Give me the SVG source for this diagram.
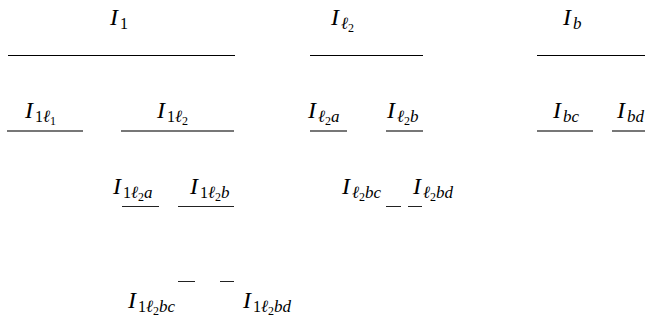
<svg xmlns="http://www.w3.org/2000/svg" width="645" height="320" viewBox="0 0 645 320">
<style>
text{font-family:"Liberation Serif","DejaVu Serif",serif;fill:#000}
.m{font-style:italic;font-size:24px}
.s{font-size:16px;font-style:normal}
.si{font-size:17px;font-style:italic}
.ss{font-size:12px;font-style:normal}
.l1{stroke:#000;stroke-width:1}
.l2{stroke:#777;stroke-width:2}
.l3{stroke:#222;stroke-width:1}
</style>
<rect width="645" height="320" fill="#fff"/>
<g id="connectors" fill="none">
<line class="l1" x1="8" y1="55.5" x2="235" y2="55.5"/>
<line class="l1" x1="310" y1="55.5" x2="423" y2="55.5"/>
<line class="l1" x1="537" y1="55.5" x2="645" y2="55.5"/>
<line class="l2" x1="7" y1="131" x2="83" y2="131"/>
<line class="l2" x1="121" y1="131" x2="234" y2="131"/>
<line class="l2" x1="310" y1="131" x2="347" y2="131"/>
<line class="l2" x1="386" y1="131" x2="423" y2="131"/>
<line class="l2" x1="537" y1="131" x2="593" y2="131"/>
<line class="l2" x1="612" y1="131" x2="645" y2="131"/>
<line class="l3" x1="122" y1="206.5" x2="159" y2="206.5"/>
<line class="l3" x1="178" y1="206.5" x2="234" y2="206.5"/>
<line class="l3" x1="386" y1="206.5" x2="401" y2="206.5"/>
<line class="l3" x1="408" y1="206.5" x2="422" y2="206.5"/>
<line class="l3" x1="178" y1="281.5" x2="195" y2="281.5"/>
<line class="l3" x1="220" y1="281.5" x2="234" y2="281.5"/>
</g>
<g id="n-I1"><text class="m" x="110" y="25">I<tspan class="s" dx="2" dy="4">1</tspan></text></g>
<g id="n-Il2"><text class="m" x="331" y="25">I<tspan class="si" dx="2" dy="4">ℓ</tspan><tspan class="ss" dy="3">2</tspan></text></g>
<g id="n-Ib"><text class="m" x="563" y="25">I<tspan class="si" dx="2" dy="4">b</tspan></text></g>
<g id="n-I1l1"><text class="m" x="25" y="118">I<tspan class="s" dx="2" dy="4">1</tspan><tspan class="si">ℓ</tspan><tspan class="ss" dy="3">1</tspan></text></g>
<g id="n-I1l2"><text class="m" x="157" y="118">I<tspan class="s" dx="2" dy="4">1</tspan><tspan class="si">ℓ</tspan><tspan class="ss" dy="3">2</tspan></text></g>
<g id="n-Il2a"><text class="m" x="308" y="118">I<tspan class="si" dx="2" dy="4">ℓ</tspan><tspan class="ss" dy="3">2</tspan><tspan class="si" dy="-3">a</tspan></text></g>
<g id="n-Il2b"><text class="m" x="387" y="118">I<tspan class="si" dx="2" dy="4">ℓ</tspan><tspan class="ss" dy="3">2</tspan><tspan class="si" dy="-3">b</tspan></text></g>
<g id="n-Ibc"><text class="m" x="553" y="118">I<tspan class="si" dx="2" dy="4">bc</tspan></text></g>
<g id="n-Ibd"><text class="m" x="617" y="118">I<tspan class="si" dx="2" dy="4">bd</tspan></text></g>
<g id="n-I1l2a"><text class="m" x="113" y="194">I<tspan class="s" dx="2" dy="4">1</tspan><tspan class="si">ℓ</tspan><tspan class="ss" dy="3">2</tspan><tspan class="si" dy="-3">a</tspan></text></g>
<g id="n-I1l2b"><text class="m" x="190" y="194">I<tspan class="s" dx="2" dy="4">1</tspan><tspan class="si">ℓ</tspan><tspan class="ss" dy="3">2</tspan><tspan class="si" dy="-3">b</tspan></text></g>
<g id="n-Il2bc"><text class="m" x="342" y="194">I<tspan class="si" dx="2" dy="4">ℓ</tspan><tspan class="ss" dy="3">2</tspan><tspan class="si" dy="-3">bc</tspan></text></g>
<g id="n-Il2bd"><text class="m" x="413" y="194">I<tspan class="si" dx="2" dy="4">ℓ</tspan><tspan class="ss" dy="3">2</tspan><tspan class="si" dy="-3">bd</tspan></text></g>
<g id="n-I1l2bc"><text class="m" x="128" y="308">I<tspan class="s" dx="2" dy="4">1</tspan><tspan class="si">ℓ</tspan><tspan class="ss" dy="3">2</tspan><tspan class="si" dy="-3">bc</tspan></text></g>
<g id="n-I1l2bd"><text class="m" x="243" y="308">I<tspan class="s" dx="2" dy="4">1</tspan><tspan class="si">ℓ</tspan><tspan class="ss" dy="3">2</tspan><tspan class="si" dy="-3">bd</tspan></text></g>
</svg>
